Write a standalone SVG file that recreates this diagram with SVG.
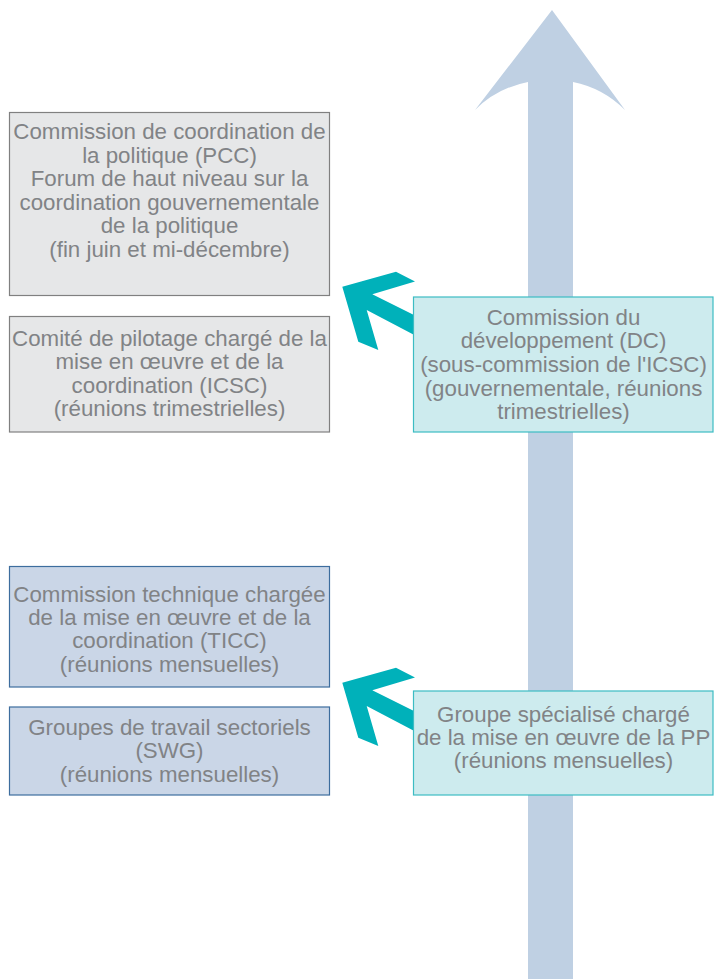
<svg xmlns="http://www.w3.org/2000/svg" width="715" height="979" viewBox="0 0 715 979">
<style>
.t{font-family:"Liberation Sans",Arial,sans-serif;font-size:22.3px;fill:#818386;text-anchor:middle}
.gray{fill:#e6e7e8;stroke:#808080;stroke-width:1.2}
.blue{fill:#cad6e7;stroke:#3d6d9e;stroke-width:1.2}
.teal{fill:#cdebee;stroke:#3cbcc3;stroke-width:1.2}
.ta{fill:#00b1ba}
</style>
<defs>
<polygon id="tealArrow" points="342.3,286.7 396,271.7 415,281.5 372.3,294.3 420,318 420,338 366.7,310 378.3,350 358.3,341.7"/>
</defs>
<rect width="715" height="979" fill="#ffffff"/>
<g id="connectors">
<path id="main-arrow" d="M528,980 L528,82 Q497,88 475,110 L552,10 L625,110 Q603,88 573,82 L573,980 Z" fill="#bfd0e3"/>
<use href="#tealArrow" class="ta"/>
<use href="#tealArrow" class="ta" transform="translate(0,396)"/>
</g>
<g id="pcc">
<rect class="gray" x="9.5" y="112.5" width="320" height="183"/>
<text class="t" x="169.5" y="139.3">Commission de coordination de</text>
<text class="t" x="169.5" y="163">la politique (PCC)</text>
<text class="t" x="169.5" y="186.3">Forum de haut niveau sur la</text>
<text class="t" x="169.5" y="210">coordination gouvernementale</text>
<text class="t" x="169.5" y="233.3">de la politique</text>
<text class="t" x="169.5" y="257">(fin juin et mi-décembre)</text>
</g>
<g id="icsc">
<rect class="gray" x="9.5" y="316.5" width="320" height="115.5"/>
<text class="t" x="169.5" y="345.7">Comité de pilotage chargé de la</text>
<text class="t" x="169.5" y="369.3">mise en œuvre et de la</text>
<text class="t" x="169.5" y="392.7">coordination (ICSC)</text>
<text class="t" x="169.5" y="416">(réunions trimestrielles)</text>
</g>
<g id="dc">
<rect class="teal" x="413.5" y="297" width="299.5" height="135"/>
<text class="t" x="563.5" y="325">Commission du</text>
<text class="t" x="563.5" y="348.3">développement (DC)</text>
<text class="t" x="563.5" y="372.3">(sous-commission de l'ICSC)</text>
<text class="t" x="563.5" y="396">(gouvernementale, réunions</text>
<text class="t" x="563.5" y="419.3">trimestrielles)</text>
</g>
<g id="ticc">
<rect class="blue" x="9.5" y="566.5" width="320" height="120.5"/>
<text class="t" x="169.5" y="601.7">Commission technique chargée</text>
<text class="t" x="169.5" y="624.7">de la mise en œuvre et de la</text>
<text class="t" x="169.5" y="648.3">coordination (TICC)</text>
<text class="t" x="169.5" y="671.7">(réunions mensuelles)</text>
</g>
<g id="swg">
<rect class="blue" x="9.5" y="707" width="320" height="88"/>
<text class="t" x="169.5" y="735">Groupes de travail sectoriels</text>
<text class="t" x="169.5" y="758.3">(SWG)</text>
<text class="t" x="169.5" y="781.7">(réunions mensuelles)</text>
</g>
<g id="pp">
<rect class="teal" x="413.5" y="691" width="299.5" height="104"/>
<text class="t" x="563.5" y="721.7">Groupe spécialisé chargé</text>
<text class="t" x="563.5" y="745.3">de la mise en œuvre de la PP</text>
<text class="t" x="563.5" y="768.3">(réunions mensuelles)</text>
</g>
</svg>
